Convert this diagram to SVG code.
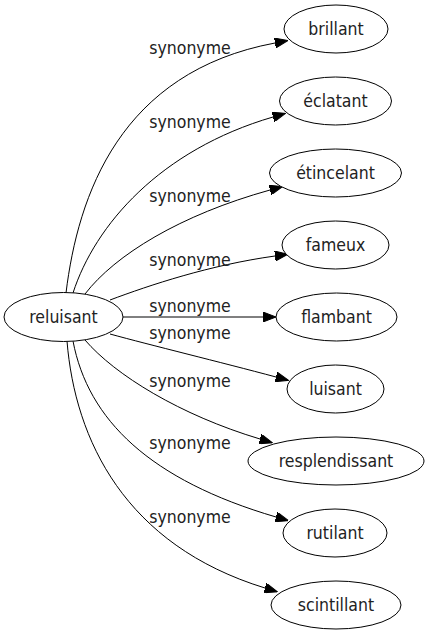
<svg xmlns="http://www.w3.org/2000/svg" width="429" height="635" viewBox="0 0 429 635">
<style>
.node ellipse{fill:#fff;stroke:#000;stroke-width:1}
text{font-family:"DejaVu Sans Condensed","DejaVu Sans","Liberation Sans",sans-serif;font-stretch:condensed;font-size:17.5px;fill:#222;text-anchor:middle}
.edges path{fill:none;stroke:#000;stroke-width:1;marker-end:url(#arr)}
</style>
<defs>
<marker id="arr" markerUnits="userSpaceOnUse" viewBox="0 0 13 10" refX="0" refY="5" markerWidth="13" markerHeight="10" orient="auto">
<polygon points="0,0 13,5 0,10" fill="#000" stroke="#000" stroke-width="1"/>
</marker>
</defs>
<rect width="429" height="635" fill="#fff"/>
<g class="edges" id="edges">
<path d="M66,293 C78,195 120,72 275,43"/>
<path d="M73,293 C95,225 160,150 273,117"/>
<path d="M85,294 C115,255 180,215 270,190"/>
<path d="M110,300 C150,285 210,265 275,256"/>
<path d="M123,317 L263,317"/>
<path d="M110,334 C150,345 220,362 276,377"/>
<path d="M85,340 C115,375 180,415 260,439"/>
<path d="M73,341 C88,420 150,480 276,517"/>
<path d="M67,341 C75,440 125,545 265,588"/>
</g>
<g id="labels">
<text x="190" y="54">synonyme</text>
<text x="190" y="128">synonyme</text>
<text x="190" y="202">synonyme</text>
<text x="190" y="266">synonyme</text>
<text x="190" y="312">synonyme</text>
<text x="190" y="339">synonyme</text>
<text x="190" y="387">synonyme</text>
<text x="190" y="449">synonyme</text>
<text x="190" y="523">synonyme</text>
</g>
<g class="node" id="reluisant"><ellipse cx="63.5" cy="317" rx="59.5" ry="24.5"/><text x="63.5" y="322.5">reluisant</text></g>
<g class="node" id="brillant"><ellipse cx="336" cy="29" rx="52" ry="24"/><text x="336" y="34.5">brillant</text></g>
<g class="node" id="eclatant"><ellipse cx="335.5" cy="101" rx="56" ry="24"/><text x="335.5" y="106.5">éclatant</text></g>
<g class="node" id="etincelant"><ellipse cx="335.5" cy="173" rx="66" ry="24"/><text x="335.5" y="178.5">étincelant</text></g>
<g class="node" id="fameux"><ellipse cx="335.5" cy="245" rx="53.5" ry="24"/><text x="335.5" y="250.5">fameux</text></g>
<g class="node" id="flambant"><ellipse cx="336.5" cy="317" rx="60.5" ry="24"/><text x="336.5" y="322.5">flambant</text></g>
<g class="node" id="luisant"><ellipse cx="335.5" cy="389" rx="48.5" ry="24"/><text x="335.5" y="394.5">luisant</text></g>
<g class="node" id="resplendissant"><ellipse cx="336" cy="461" rx="88" ry="24"/><text x="336" y="466.5">resplendissant</text></g>
<g class="node" id="rutilant"><ellipse cx="335" cy="533" rx="52" ry="24"/><text x="335" y="538.5">rutilant</text></g>
<g class="node" id="scintillant"><ellipse cx="336" cy="605" rx="65" ry="24"/><text x="336" y="610.5">scintillant</text></g>
</svg>
